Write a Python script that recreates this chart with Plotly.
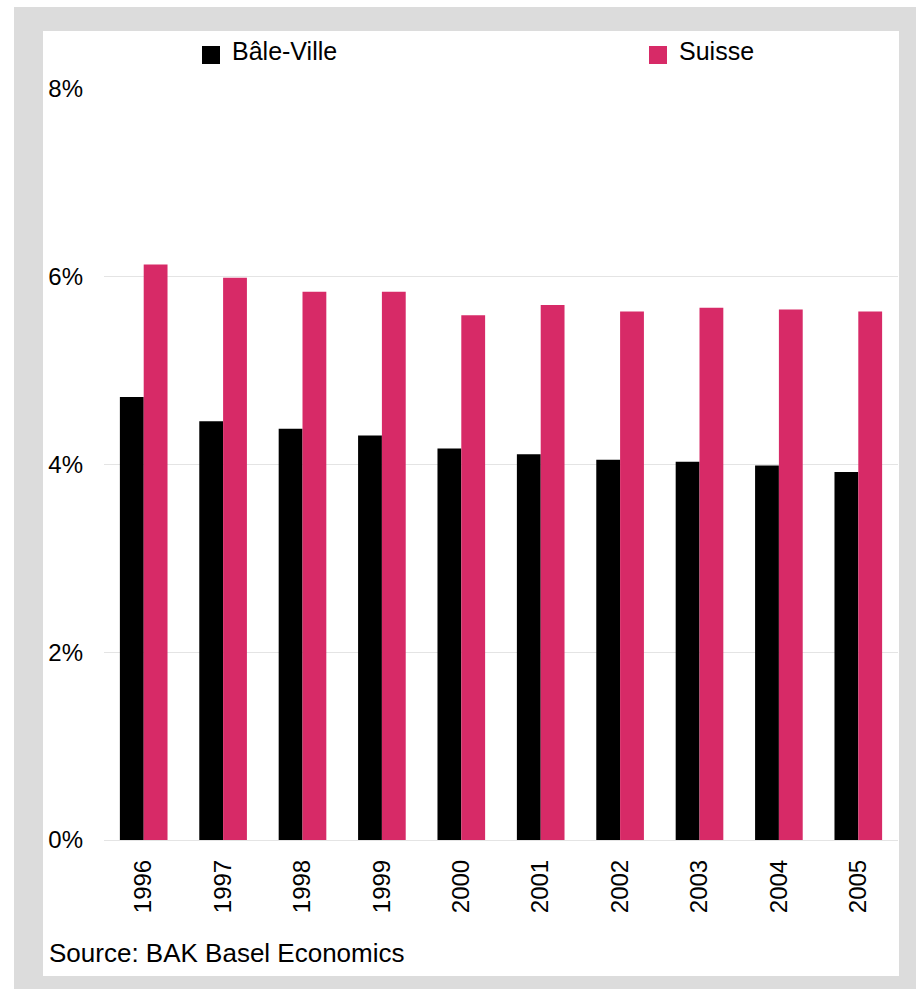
import plotly.graph_objects as go

# Data
years = ["1996", "1997", "1998", "1999", "2000", "2001", "2002", "2003", "2004", "2005"]
bale_ville = [4.72, 4.46, 4.38, 4.31, 4.17, 4.11, 4.05, 4.03, 3.99, 3.92]
suisse = [6.13, 5.99, 5.84, 5.84, 5.59, 5.70, 5.63, 5.67, 5.65, 5.63]
y_ticks = [0, 2, 4, 6, 8]
y_tick_labels = ["0%", "2%", "4%", "6%", "8%"]
series_names = ["Bâle-Ville", "Suisse"]
source_text = "Source: BAK Basel Economics"

BLACK = "#000000"
PINK = "#D72A67"
FONT = "Liberation Sans, Arial, sans-serif"

W, H = 916, 989
L, R, T, B = 104, 18, 89, 149
PW, PH = W - L - R, H - T - B


def px(x):
    return (x - L) / PW


def py(y):
    return (H - B - y) / PH


fig = go.Figure()
fig.add_trace(go.Bar(x=years, y=bale_ville, name=series_names[0],
                     marker=dict(color=BLACK, line=dict(width=0))))
fig.add_trace(go.Bar(x=years, y=suisse, name=series_names[1],
                     marker=dict(color=PINK, line=dict(width=0))))

shapes = [
    # grey frame and white panel
    dict(type="rect", xref="paper", yref="paper", layer="below",
         x0=px(14), x1=px(916), y0=py(989), y1=py(7),
         fillcolor="#DCDCDC", line=dict(width=0)),
    dict(type="rect", xref="paper", yref="paper", layer="below",
         x0=px(43), x1=px(899), y0=py(976), y1=py(31),
         fillcolor="#FFFFFF", line=dict(width=0)),
    # legend swatches
    dict(type="rect", xref="paper", yref="paper",
         x0=px(202), x1=px(220), y0=py(64), y1=py(46),
         fillcolor=BLACK, line=dict(width=0)),
    dict(type="rect", xref="paper", yref="paper",
         x0=px(649), x1=px(667), y0=py(64), y1=py(46),
         fillcolor=PINK, line=dict(width=0)),
]

annotations = [
    dict(text=series_names[0], xref="paper", yref="paper", x=px(230), y=py(51),
         xanchor="left", yanchor="middle", showarrow=False,
         font=dict(family=FONT, size=25, color="#000")),
    dict(text=series_names[1], xref="paper", yref="paper", x=px(677), y=py(51),
         xanchor="left", yanchor="middle", showarrow=False,
         font=dict(family=FONT, size=25, color="#000")),
    dict(text=source_text, xref="paper", yref="paper", x=px(47), y=py(953),
         xanchor="left", yanchor="middle", showarrow=False,
         font=dict(family=FONT, size=26, color="#000")),
]

fig.update_layout(
    width=W, height=H,
    margin=dict(l=L, r=R, t=T, b=B, pad=0),
    paper_bgcolor="#FFFFFF",
    plot_bgcolor="rgba(0,0,0,0)",
    barmode="group",
    bargap=0.4,
    bargroupgap=0,
    showlegend=False,
    shapes=shapes,
    annotations=annotations,
    font=dict(family=FONT, size=24, color="#000"),
)

fig.update_xaxes(
    type="category",
    tickangle=-90,
    showgrid=False,
    showline=False,
    zeroline=False,
    ticks="",
    ticklabelstandoff=14,
    tickfont=dict(family=FONT, size=24, color="#000"),
)

fig.update_yaxes(
    range=[0, 8],
    tickvals=y_ticks,
    ticktext=y_tick_labels,
    showgrid=True,
    gridcolor="#E4E4E4",
    gridwidth=1,
    zeroline=True,
    zerolinecolor="#E4E4E4",
    zerolinewidth=1,
    showline=False,
    ticks="",
    ticklabelstandoff=20,
    tickfont=dict(family=FONT, size=24, color="#000"),
)

fig.write_html("out.html")
